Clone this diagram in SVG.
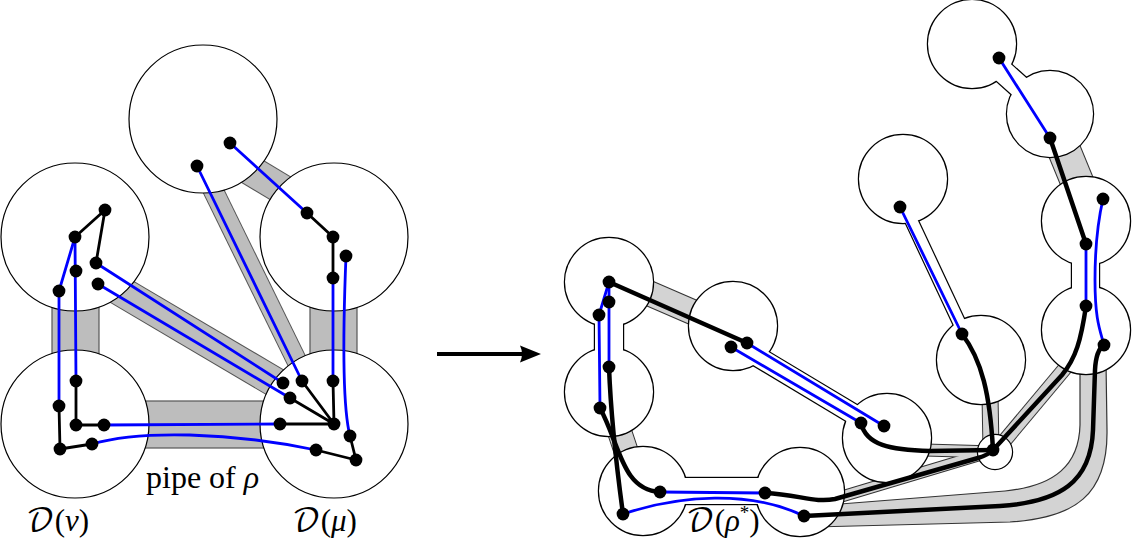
<svg xmlns="http://www.w3.org/2000/svg" width="1132" height="539" viewBox="0 0 1132 539">
<style>
.disk{fill:#fff;stroke:#000;stroke-width:1.2}
.po{fill:none;stroke:#555}
.pi{fill:none;stroke:#bdbdbd}
.qo{fill:none;stroke:#333}
.qi{fill:none;stroke:#d3d3d3}
.bl{fill:none;stroke:#0000ff;stroke-width:2.8;stroke-linecap:round;stroke-linejoin:round}
.bk{fill:none;stroke:#000;stroke-width:2.8;stroke-linecap:round;stroke-linejoin:round}
.bkt{fill:none;stroke:#000;stroke-width:4.5;stroke-linecap:round;stroke-linejoin:round}
.dot{fill:#000}
.uo{fill:none;stroke:#000;stroke-width:2.4}
.uf{fill:#fff;stroke:none}
.lbl{font-family:"Liberation Serif","DejaVu Serif",serif;fill:#000}
.cal{font-family:"DejaVu Math TeX Gyre","DejaVu Serif","DejaVu Sans",serif}
</style>

<!-- LEFT: pipes -->
<g id="pipes-left">
<g class="po">
<line x1="90" y1="273" x2="295" y2="394" stroke-width="31"/>
<line x1="193.4" y1="150" x2="311" y2="390" stroke-width="21"/>
<line x1="225" y1="155" x2="295" y2="197" stroke-width="31"/>
</g>
<g fill="#bdbdbd" stroke="#555" stroke-width="1.2">
<rect x="52" y="290" width="47" height="80"/>
<rect x="310" y="290" width="47" height="80"/>
<rect x="130" y="401" width="150" height="47"/>
</g>
<g class="pi">
<line x1="90" y1="273" x2="295" y2="394" stroke-width="29"/>
<line x1="193.4" y1="150" x2="311" y2="390" stroke-width="19"/>
<line x1="225" y1="155" x2="295" y2="197" stroke-width="29"/>
</g>
</g>

<!-- LEFT: disks -->
<g id="disk-top"><circle class="disk" cx="203" cy="119" r="74"/></g>
<g id="disk-upper-left"><circle class="disk" cx="75" cy="237" r="74"/></g>
<g id="disk-upper-right"><circle class="disk" cx="334" cy="237" r="74"/></g>
<g id="D-nu"><circle class="disk" cx="75" cy="424" r="74"/></g>
<g id="D-mu"><circle class="disk" cx="334" cy="424" r="74"/></g>

<!-- LEFT: connectors -->
<g id="connectors-left">
<g class="bl">
<path d="M75,237 L59,291 L59,406"/>
<path d="M75,237 L76,381"/>
<path d="M96,263 L283,383"/>
<path d="M98,284 L290,398"/>
<path d="M197,166 L302,381"/>
<path d="M230,143 L307,213"/>
<path d="M333,278 L333,381"/>
<path d="M346,256 C343,330 342,405 350,436"/>
<path d="M104,425 L280,424"/>
<path d="M92,444 C140,430 230,432 316,450"/>
</g>
<g class="bk">
<path d="M75,237 L105,210 L96,263"/>
<path d="M59,406 L60,449 L92,444"/>
<path d="M76,381 L76,425 L104,425"/>
<path d="M307,213 L333,237 L333,278"/>
<path d="M334,424 L302,381 M334,424 L290,398 M334,424 L280,424 M334,424 L333,381"/>
<path d="M350,436 L356,460 L316,450"/>
</g>
</g>

<g id="vertices-left" class="dot">
<circle cx="230" cy="143" r="6.4"/><circle cx="197" cy="166" r="6.4"/>
<circle cx="105" cy="210" r="6.4"/><circle cx="75" cy="237" r="6.4"/><circle cx="96" cy="263" r="6.4"/>
<circle cx="76" cy="271" r="6.4"/><circle cx="98" cy="284" r="6.4"/><circle cx="59" cy="291" r="6.4"/>
<circle cx="76" cy="381" r="6.4"/><circle cx="59" cy="406" r="6.4"/><circle cx="76" cy="425" r="6.4"/>
<circle cx="104" cy="425" r="6.4"/><circle cx="60" cy="449" r="6.4"/><circle cx="92" cy="444" r="6.4"/>
<circle cx="307" cy="213" r="6.4"/><circle cx="333" cy="237" r="6.4"/><circle cx="346" cy="256" r="6.4"/>
<circle cx="333" cy="278" r="6.4"/>
<circle cx="283" cy="383" r="6.4"/><circle cx="302" cy="381" r="6.4"/><circle cx="333" cy="381" r="6.4"/>
<circle cx="290" cy="398" r="6.4"/><circle cx="280" cy="424" r="6.4"/><circle cx="334" cy="424" r="6.4"/>
<circle cx="350" cy="436" r="6.4"/><circle cx="316" cy="450" r="6.4"/><circle cx="356" cy="460" r="6.4"/>
</g>

<g id="labels-left" class="lbl">
<text x="146" y="488" font-size="32">pipe of <tspan font-style="italic">ρ</tspan></text>
<text x="26" y="531" font-size="31"><tspan class="cal">𝒟</tspan>(<tspan font-style="italic">ν</tspan>)</text>
<text x="292" y="531" font-size="31"><tspan class="cal">𝒟</tspan>(<tspan font-style="italic">μ</tspan>)</text>
</g>

<!-- ARROW -->
<g id="arrow">
<line x1="437" y1="354" x2="524" y2="354" stroke="#000" stroke-width="4"/>
<path d="M541,354 L520,345.5 Q524,354 520,362.5 Z" fill="#000"/>
</g>

<!-- RIGHT: pipes -->
<g id="pipes-right">
<path d="M815,506 L1005,491 C1055,486 1079,465 1080,425 L1080,362 L1106,362 L1107,430 C1108,495 1075,518 1010,522 L815,527 Z" fill="#d3d3d3" stroke="#333" stroke-width="1.2"/>
<g class="qo">
<line x1="630" y1="285" x2="712" y2="320.5" stroke-width="26"/>
<line x1="614" y1="415" x2="633" y2="472" stroke-width="25"/>
<line x1="820" y1="503" x2="990" y2="452" stroke-width="12"/>
<line x1="925" y1="450" x2="995" y2="452" stroke-width="13"/>
<line x1="990" y1="395" x2="991" y2="450" stroke-width="17"/>
<line x1="1072" y1="360" x2="995" y2="452" stroke-width="15"/>
<line x1="1057" y1="133" x2="1087" y2="206" stroke-width="34"/>
</g>
<g class="qi">
<line x1="630" y1="285" x2="712" y2="320.5" stroke-width="24"/>
<line x1="614" y1="415" x2="633" y2="472" stroke-width="23"/>
<line x1="820" y1="503" x2="990" y2="452" stroke-width="10"/>
<line x1="925" y1="450" x2="995" y2="452" stroke-width="11"/>
<line x1="990" y1="395" x2="991" y2="450" stroke-width="15"/>
<line x1="1072" y1="360" x2="995" y2="452" stroke-width="13"/>
<line x1="1057" y1="133" x2="1087" y2="206" stroke-width="32"/>
</g>
</g>

<!-- RIGHT: thickened region (union of disks and necks) -->
<g id="region-outline" class="uo">
<circle cx="609" cy="282" r="44"/><circle cx="609" cy="392" r="44"/>
<circle cx="643" cy="491" r="44"/><circle cx="800" cy="492" r="44"/>
<circle cx="733" cy="326" r="44"/><circle cx="887" cy="438" r="44"/>
<circle cx="981" cy="360" r="44"/><circle cx="995" cy="452" r="17"/>
<circle cx="1086" cy="330" r="44"/><circle cx="1086" cy="221" r="44"/>
<circle cx="1050" cy="114" r="43"/><circle cx="972" cy="44" r="44"/>
<circle cx="903" cy="179" r="44"/>
<rect x="595" y="300" width="28" height="75"/>
<rect x="670" y="478" width="105" height="26"/>
<rect x="1072" y="240" width="27" height="70"/>
<line x1="740" y1="346" x2="880" y2="430" stroke-width="21.4"/>
<line x1="904" y1="205" x2="965" y2="335" stroke-width="14.4"/>
<line x1="972" y1="44" x2="1050" y2="114" stroke-width="24.4"/>
</g>
<g id="region-fill" class="uf">
<circle cx="609" cy="282" r="44"/><circle cx="609" cy="392" r="44"/>
<circle cx="643" cy="491" r="44"/><circle cx="800" cy="492" r="44"/>
<circle cx="733" cy="326" r="44"/><circle cx="887" cy="438" r="44"/>
<circle cx="981" cy="360" r="44"/><circle cx="995" cy="452" r="17"/>
<circle cx="1086" cy="330" r="44"/><circle cx="1086" cy="221" r="44"/>
<circle cx="1050" cy="114" r="43"/><circle cx="972" cy="44" r="44"/>
<circle cx="903" cy="179" r="44"/>
<rect x="595" y="300" width="28" height="75"/>
<rect x="670" y="478" width="105" height="26"/>
<rect x="1072" y="240" width="27" height="70"/>
<line x1="740" y1="346" x2="880" y2="430" stroke="#fff" stroke-width="19"/>
<line x1="904" y1="205" x2="965" y2="335" stroke="#fff" stroke-width="12"/>
<line x1="972" y1="44" x2="1050" y2="114" stroke="#fff" stroke-width="22"/>
</g>

<!-- RIGHT: connectors -->
<g id="connectors-right">
<g class="bl">
<path d="M609,282 L609,367"/>
<path d="M609,282 L599,315 L600,408"/>
<path d="M660,492 L765,493"/>
<path d="M623,514 C680,495 750,490 804,516"/>
<path d="M731,347 L861,423"/>
<path d="M747,343 L884,426"/>
<path d="M900,207 L962,334"/>
<path d="M999,58 L1050,138"/>
<path d="M1086,244 L1086,306"/>
<path d="M1103,199 C1097,225 1095,250 1095,280 C1095,320 1100,330 1104,345"/>
</g>
<g class="bkt">
<path d="M609,282 L747,343"/>
<path d="M609,367 C611,420 617,470 623,514"/>
<path d="M600,408 C620,445 622,490 660,492"/>
<path d="M765,493 C800,495 815,503 835,499 L978,458 Q988,455 993,450"/>
<path d="M804,516 L1000,506 C1060,502 1091,482 1093,430 L1095,370 Q1096,350 1104,345"/>
<path d="M1086,306 C1081,340 1076,358 1062,375 L993,450"/>
<path d="M962,334 C982,360 990,395 993,450"/>
<path d="M861,423 C866,445 890,450 930,451 L993,450"/>
<path d="M1050,138 L1086,244"/>
</g>
</g>

<g id="vertices-right" class="dot">
<circle cx="609" cy="282" r="6.4"/><circle cx="609" cy="302" r="6.4"/><circle cx="599" cy="315" r="6.4"/>
<circle cx="609" cy="367" r="6.4"/><circle cx="600" cy="408" r="6.4"/><circle cx="660" cy="492" r="6.4"/>
<circle cx="623" cy="514" r="6.4"/><circle cx="765" cy="493" r="6.4"/><circle cx="804" cy="516" r="6.4"/>
<circle cx="747" cy="343" r="6.4"/><circle cx="731" cy="347" r="6.4"/><circle cx="861" cy="423" r="6.4"/>
<circle cx="884" cy="426" r="6.4"/><circle cx="962" cy="334" r="6.4"/><circle cx="900" cy="207" r="6.4"/>
<circle cx="999" cy="58" r="6.4"/><circle cx="1050" cy="138" r="6.4"/><circle cx="1086" cy="244" r="6.4"/>
<circle cx="1103" cy="199" r="6.4"/><circle cx="1086" cy="306" r="6.4"/><circle cx="1104" cy="345" r="6.4"/>
<circle cx="993" cy="450" r="6.4"/>
</g>

<g id="labels-right" class="lbl">
<text x="686" y="531" font-size="31"><tspan class="cal">𝒟</tspan>(<tspan font-style="italic">ρ</tspan><tspan font-size="19" dy="-12">*</tspan><tspan dy="12">)</tspan></text>
</g>
</svg>
